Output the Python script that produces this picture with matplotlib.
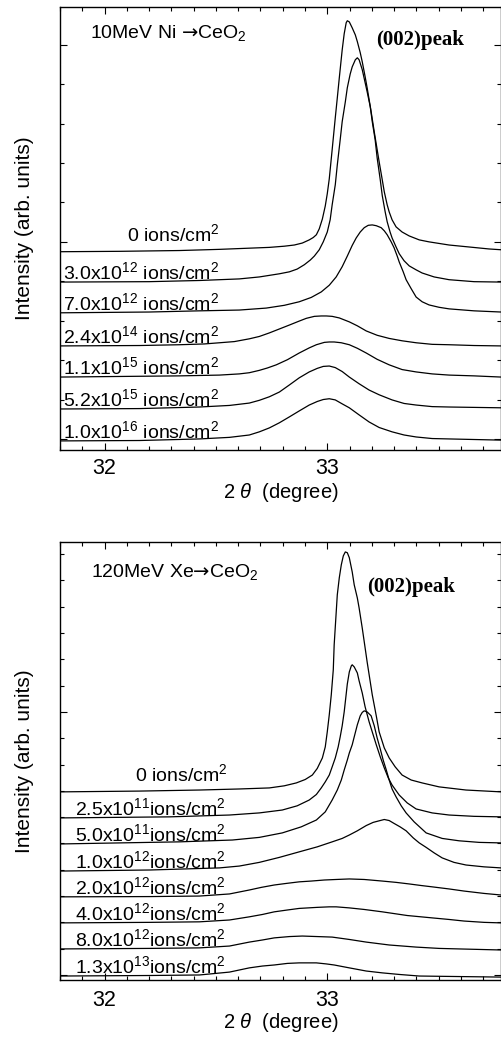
import matplotlib
matplotlib.use("Agg")
import matplotlib.pyplot as plt
from matplotlib.ticker import MultipleLocator, NullFormatter

plt.rcParams["font.family"] = ["Liberation Sans", "DejaVu Sans"]
plt.rcParams["mathtext.fontset"] = "custom"
plt.rcParams["mathtext.rm"] = "Liberation Sans"
plt.rcParams["mathtext.it"] = "Liberation Sans:italic"
plt.rcParams["mathtext.bf"] = "Liberation Sans:bold"
plt.rcParams["mathtext.sf"] = "DejaVu Sans"

# ---- 10 MeV Ni -> CeO2 : (002) peak, stacked profiles (2theta in degree, intensity arb.) ----
ni_labels = [
    "0 ions/cm$^2$",
    "3.0x10$^{12}$ ions/cm$^2$",
    "7.0x10$^{12}$ ions/cm$^2$",
    "2.4x10$^{14}$ ions/cm$^2$",
    "1.1x10$^{15}$ ions/cm$^2$",
    "5.2x10$^{15}$ ions/cm$^2$",
    "1.0x10$^{16}$ ions/cm$^2$",
]

ni_0_x = [31.80, 32.067, 32.336, 32.516, 32.650, 32.740, 32.807, 32.852, 32.888, 32.919, 32.937,
          32.951, 32.964, 32.978, 32.991, 33.000, 33.009, 33.022, 33.036, 33.045, 33.054, 33.067,
          33.076, 33.085, 33.090, 33.099, 33.112, 33.126, 33.135, 33.148, 33.157, 33.170, 33.179,
          33.197, 33.211, 33.224, 33.233, 33.247, 33.256, 33.269, 33.278, 33.291, 33.309, 33.336,
          33.368, 33.413, 33.457, 33.547, 33.637, 33.726, 33.780]
ni_0_y = [4.75, 4.76, 4.78, 4.81, 4.84, 4.86, 4.89, 4.92, 4.97, 5.05, 5.11,
          5.18, 5.33, 5.58, 5.91, 6.22, 6.60, 7.34, 8.15, 8.65, 9.16, 9.87,
          10.28, 10.56, 10.61, 10.58, 10.43, 10.25, 10.08, 9.80, 9.57, 9.19, 8.91,
          8.30, 7.79, 7.34, 7.03, 6.57, 6.27, 5.94, 5.76, 5.56, 5.38, 5.25,
          5.15, 5.05, 5.00, 4.92, 4.87, 4.82, 4.80]

ni_1_x = [31.80, 32.20, 32.426, 32.605, 32.695, 32.785, 32.830, 32.865, 32.897, 32.924, 32.942,
          32.964, 32.982, 33.000, 33.013, 33.022, 33.036, 33.045, 33.058, 33.067, 33.081, 33.090,
          33.103, 33.112, 33.126, 33.135, 33.143, 33.157, 33.170, 33.179, 33.193, 33.202, 33.215,
          33.224, 33.238, 33.247, 33.260, 33.269, 33.282, 33.291, 33.309, 33.323, 33.345, 33.368,
          33.399, 33.426, 33.480, 33.547, 33.659, 33.780]
ni_1_y = [3.98, 3.99, 4.02, 4.06, 4.11, 4.19, 4.24, 4.31, 4.42, 4.54, 4.64,
          4.80, 5.00, 5.25, 5.56, 5.94, 6.45, 6.95, 7.59, 8.05, 8.55, 8.91,
          9.26, 9.44, 9.62, 9.67, 9.62, 9.37, 9.04, 8.81, 8.43, 8.05, 7.59,
          7.13, 6.57, 6.17, 5.76, 5.51, 5.25, 5.10, 4.87, 4.70, 4.52, 4.39,
          4.29, 4.21, 4.11, 4.04, 3.99, 3.98]

ni_2_x = [31.80, 32.20, 32.426, 32.605, 32.726, 32.807, 32.874, 32.928, 32.973, 33.009, 33.040,
          33.067, 33.090, 33.112, 33.130, 33.148, 33.166, 33.184, 33.202, 33.220, 33.242, 33.256,
          33.269, 33.287, 33.300, 33.314, 33.323, 33.341, 33.354, 33.377, 33.399, 33.426, 33.457,
          33.502, 33.547, 33.659, 33.780]
ni_2_y = [3.20, 3.22, 3.25, 3.27, 3.32, 3.39, 3.48, 3.59, 3.73, 3.90, 4.11,
          4.37, 4.64, 4.91, 5.10, 5.25, 5.36, 5.42, 5.43, 5.41, 5.36, 5.28,
          5.18, 5.00, 4.85, 4.64, 4.49, 4.24, 4.04, 3.81, 3.60, 3.48, 3.40,
          3.34, 3.30, 3.25, 3.22]

ni_3_x = [31.80, 32.157, 32.336, 32.448, 32.516, 32.583, 32.650, 32.695, 32.740, 32.785, 32.830,
          32.874, 32.906, 32.942, 32.973, 32.996, 33.022, 33.054, 33.099, 33.135, 33.175, 33.224,
          33.278, 33.336, 33.399, 33.471, 33.547, 33.659, 33.780]
ni_3_y = [2.36, 2.37, 2.39, 2.41, 2.44, 2.47, 2.54, 2.60, 2.69, 2.79, 2.89,
          2.99, 3.06, 3.11, 3.12, 3.12, 3.11, 3.07, 2.97, 2.87, 2.74, 2.63,
          2.55, 2.49, 2.44, 2.40, 2.39, 2.37, 2.36]

ni_4_x = [31.80, 32.157, 32.336, 32.516, 32.605, 32.650, 32.695, 32.731, 32.771, 32.821, 32.874,
          32.919, 32.951, 32.987, 33.009, 33.031, 33.063, 33.099, 33.135, 33.175, 33.224, 33.278,
          33.336, 33.399, 33.471, 33.547, 33.659, 33.780]
ni_4_y = [1.57, 1.59, 1.60, 1.62, 1.65, 1.68, 1.74, 1.80, 1.88, 2.01, 2.18,
          2.31, 2.39, 2.45, 2.46, 2.46, 2.44, 2.39, 2.30, 2.18, 2.02, 1.88,
          1.76, 1.70, 1.65, 1.62, 1.60, 1.57]

ni_5_x = [31.80, 32.157, 32.426, 32.561, 32.650, 32.695, 32.740, 32.785, 32.830, 32.874, 32.919,
          32.955, 32.982, 33.009, 33.036, 33.067, 33.099, 33.143, 33.188, 33.233, 33.291, 33.345,
          33.399, 33.471, 33.547, 33.780]
ni_5_y = [0.76, 0.77, 0.81, 0.85, 0.91, 0.98, 1.07, 1.19, 1.37, 1.55, 1.70,
          1.79, 1.84, 1.85, 1.81, 1.71, 1.57, 1.40, 1.24, 1.12, 0.99, 0.90,
          0.86, 0.82, 0.81, 0.79]

ni_6_x = [31.80, 32.157, 32.426, 32.561, 32.650, 32.695, 32.740, 32.785, 32.830, 32.874, 32.919,
          32.955, 32.982, 33.009, 33.036, 33.067, 33.099, 33.143, 33.188, 33.233, 33.291, 33.345,
          33.399, 33.471, 33.547, 33.780]
ni_6_y = [-0.05, -0.04, 0.00, 0.04, 0.10, 0.18, 0.28, 0.41, 0.56, 0.71, 0.86,
          0.95, 1.00, 1.02, 0.99, 0.89, 0.79, 0.61, 0.43, 0.29, 0.18, 0.10,
          0.05, 0.01, 0.00, -0.03]

# ---- 120 MeV Xe -> CeO2 ----
xe_labels = [
    "0 ions/cm$^2$",
    "2.5x10$^{11}$ions/cm$^2$",
    "5.0x10$^{11}$ions/cm$^2$",
    "1.0x10$^{12}$ions/cm$^2$",
    "2.0x10$^{12}$ions/cm$^2$",
    "4.0x10$^{12}$ions/cm$^2$",
    "8.0x10$^{12}$ions/cm$^2$",
    "1.3x10$^{13}$ions/cm$^2$",
]

xe_0_x = [31.80, 32.157, 32.426, 32.605, 32.740, 32.807, 32.861, 32.901, 32.933, 32.955, 32.978,
          32.991, 33.000, 33.009, 33.018, 33.027, 33.031, 33.045, 33.054, 33.063, 33.072, 33.081,
          33.090, 33.099, 33.112, 33.121, 33.135, 33.143, 33.157, 33.170, 33.179, 33.193, 33.202,
          33.220, 33.233, 33.256, 33.278, 33.305, 33.336, 33.377, 33.426, 33.502, 33.623, 33.780]
xe_0_y = [6.96, 6.99, 7.03, 7.07, 7.11, 7.19, 7.30, 7.43, 7.60, 7.85, 8.25,
          8.67, 9.24, 9.89, 10.65, 11.60, 12.55, 14.45, 15.10, 15.59, 15.93, 16.08,
          16.05, 15.86, 15.32, 14.83, 14.33, 13.95, 13.19, 12.43, 11.90, 11.14, 10.65,
          9.85, 9.24, 8.63, 8.25, 7.91, 7.60, 7.41, 7.30, 7.15, 7.03, 6.96]

xe_1_x = [31.80, 32.291, 32.561, 32.695, 32.798, 32.865, 32.919, 32.951, 32.973, 32.991, 33.009,
          33.022, 33.036, 33.049, 33.058, 33.067, 33.076, 33.085, 33.090, 33.099, 33.108, 33.112,
          33.121, 33.135, 33.143, 33.157, 33.170, 33.188, 33.206, 33.220, 33.238, 33.256, 33.274,
          33.291, 33.323, 33.359, 33.399, 33.471, 33.547, 33.659, 33.780]
xe_1_y = [5.97, 6.01, 6.08, 6.16, 6.27, 6.43, 6.65, 6.86, 7.11, 7.34, 7.60,
          7.91, 8.25, 8.67, 9.05, 9.47, 10.00, 10.68, 11.06, 11.52, 11.75, 11.79,
          11.71, 11.48, 11.18, 10.72, 10.19, 9.62, 9.13, 8.75, 8.29, 7.87, 7.49,
          7.22, 6.84, 6.54, 6.31, 6.16, 6.08, 6.03, 6.01]

xe_2_x = [31.80, 32.336, 32.574, 32.695, 32.798, 32.883, 32.951, 32.991, 33.022, 33.045, 33.063,
          33.076, 33.090, 33.099, 33.112, 33.121, 33.135, 33.148, 33.157, 33.166, 33.179, 33.197,
          33.211, 33.224, 33.238, 33.251, 33.265, 33.278, 33.291, 33.309, 33.332, 33.354, 33.390,
          33.444, 33.516, 33.592, 33.682, 33.780]
xe_2_y = [4.98, 5.06, 5.13, 5.23, 5.40, 5.63, 5.89, 6.20, 6.65, 7.03, 7.41,
          7.79, 8.17, 8.44, 8.75, 9.05, 9.51, 9.85, 9.98, 10.04, 10.00, 9.85,
          9.47, 9.01, 8.59, 8.17, 7.79, 7.41, 7.07, 6.77, 6.43, 6.16, 5.82,
          5.40, 5.19, 5.10, 5.04, 5.02]

xe_3_x = [31.80, 32.202, 32.516, 32.605, 32.695, 32.785, 32.874, 32.955, 33.022, 33.067, 33.099,
          33.135, 33.175, 33.206, 33.233, 33.256, 33.278, 33.300, 33.327, 33.354, 33.386, 33.413,
          33.444, 33.480, 33.516, 33.569, 33.623, 33.704, 33.780]
xe_3_y = [3.95, 3.99, 4.07, 4.14, 4.28, 4.47, 4.68, 4.87, 5.06, 5.19, 5.32,
          5.48, 5.68, 5.80, 5.86, 5.91, 5.87, 5.76, 5.63, 5.48, 5.21, 5.02,
          4.85, 4.64, 4.45, 4.28, 4.18, 4.11, 4.07]

xe_4_x = [31.80, 32.202, 32.426, 32.561, 32.650, 32.704, 32.762, 32.816, 32.874, 32.928, 32.987,
          33.040, 33.099, 33.166, 33.247, 33.309, 33.368, 33.422, 33.471, 33.547, 33.614, 33.704,
          33.780]
xe_4_y = [2.97, 2.98, 3.00, 3.08, 3.23, 3.33, 3.42, 3.48, 3.54, 3.57, 3.61,
          3.63, 3.65, 3.63, 3.57, 3.52, 3.46, 3.40, 3.35, 3.27, 3.19, 3.10,
          3.04]

xe_5_x = [31.80, 32.202, 32.426, 32.561, 32.650, 32.709, 32.762, 32.821, 32.874, 32.955, 33.009,
          33.040, 33.099, 33.166, 33.247, 33.359, 33.471, 33.547, 33.614, 33.704, 33.780]
xe_5_y = [1.98, 2.00, 2.02, 2.09, 2.21, 2.30, 2.40, 2.47, 2.53, 2.57, 2.59,
          2.59, 2.55, 2.49, 2.40, 2.26, 2.17, 2.11, 2.05, 2.00, 1.98]

xe_6_x = [31.80, 32.202, 32.426, 32.561, 32.650, 32.709, 32.762, 32.830, 32.888, 32.955, 33.022,
          33.099, 33.175, 33.278, 33.399, 33.502, 33.592, 33.780]
xe_6_y = [0.99, 1.01, 1.03, 1.10, 1.25, 1.33, 1.41, 1.46, 1.48, 1.46, 1.44,
          1.35, 1.25, 1.14, 1.06, 1.01, 0.99, 0.95]

xe_7_x = [31.80, 32.202, 32.426, 32.561, 32.650, 32.709, 32.762, 32.821, 32.874, 32.951, 32.996,
          33.031, 33.099, 33.175, 33.247, 33.323, 33.413, 33.592, 33.780]
xe_7_y = [-0.04, -0.02, 0.00, 0.11, 0.27, 0.34, 0.38, 0.44, 0.46, 0.46, 0.42,
          0.38, 0.27, 0.15, 0.08, 0.02, -0.04, -0.06, -0.08]

ni_x = [ni_0_x, ni_1_x, ni_2_x, ni_3_x, ni_4_x, ni_5_x, ni_6_x]
ni_y = [ni_0_y, ni_1_y, ni_2_y, ni_3_y, ni_4_y, ni_5_y, ni_6_y]
xe_x = [xe_0_x, xe_1_x, xe_2_x, xe_3_x, xe_4_x, xe_5_x, xe_6_x, xe_7_x]
xe_y = [xe_0_y, xe_1_y, xe_2_y, xe_3_y, xe_4_y, xe_5_y, xe_6_y, xe_7_y]

LABEL_FS = 14


def style_axes(ax, ylim, ymajor, tick_pad, xlabel_pad):
    ax.set_xlim(31.8, 33.78)
    ax.set_ylim(*ylim)
    ax.xaxis.set_major_locator(MultipleLocator(1))
    ax.xaxis.set_minor_locator(MultipleLocator(0.1))
    ax.yaxis.set_major_locator(MultipleLocator(ymajor))
    ax.yaxis.set_minor_locator(MultipleLocator(1))
    ax.yaxis.set_major_formatter(NullFormatter())
    ax.tick_params(which="both", direction="in", top=True, right=True, width=0.8)
    ax.tick_params(which="major", length=5, labelsize=15.5, pad=tick_pad)
    ax.tick_params(which="minor", length=3)
    for sp in ax.spines.values():
        sp.set_linewidth(1.0)
    ax.set_xlabel(r"2 $\theta$  (degree)", fontsize=14.5, labelpad=xlabel_pad)
    ax.set_ylabel("Intensity (arb. units)", fontsize=15)
    ax.yaxis.set_label_coords(-0.058, 0.5)


def draw_stack(ax, xs_list, ys_list, labels, first_x, other_x):
    for i, (xs, ys, lab) in enumerate(zip(xs_list, ys_list, labels)):
        ax.plot(xs, ys, color="black", lw=0.9)
        lx = first_x if i == 0 else other_x
        dy = 8 if i == 0 else 2
        ax.annotate(lab, xy=(lx, ys[0]), xytext=(0, dy), textcoords="offset points",
                    ha="left", va="baseline", fontsize=LABEL_FS)


fig = plt.figure(figsize=(5.02, 10.38), dpi=100)
fig.patch.set_facecolor("white")

ax1 = fig.add_axes([0.1195, 0.5665, 0.8785, 0.4268])
ax2 = fig.add_axes([0.1195, 0.0559, 0.8785, 0.4220])

# top panel
draw_stack(ax1, ni_x, ni_y, ni_labels, 32.103, 31.812)
ax1.text(31.935, 10.30, "10MeV Ni $\\mathsf{\u2192}$CeO$_2$", fontsize=LABEL_FS,
         va="center", ha="left")
ax1.text(33.22, 10.13, "(002)peak", fontsize=15, fontweight="bold",
         family="Liberation Serif", va="center", ha="left")
style_axes(ax1, (-0.28, 10.96), 5, 6, 1)

# bottom panel
draw_stack(ax2, xe_x, xe_y, xe_labels, 32.135, 31.867)
ax2.text(31.94, 15.32, "120MeV Xe$\\mathsf{\u2192}$CeO$_2$", fontsize=LABEL_FS,
         va="center", ha="left")
ax2.text(33.18, 14.75, "(002)peak", fontsize=15, fontweight="bold",
         family="Liberation Serif", va="center", ha="left")
style_axes(ax2, (-0.19, 16.46), 10, 7, 0)

fig.savefig("out.png", dpi=100, facecolor="white")
